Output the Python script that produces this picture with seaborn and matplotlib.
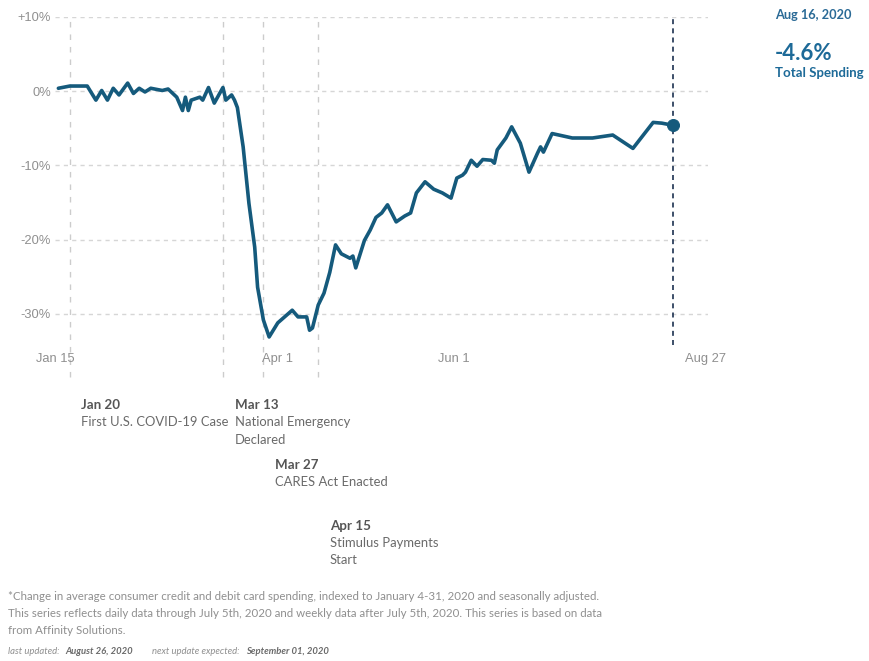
import numpy as np
import pandas as pd
import matplotlib
matplotlib.use("Agg")
import matplotlib.pyplot as plt
import matplotlib.dates as mdates
import seaborn as sns

# ---------------- data ----------------
dates = ["2020-01-16", "2020-01-20", "2020-01-26", "2020-01-29", "2020-01-31", "2020-02-02",
         "2020-02-04", "2020-02-06", "2020-02-09", "2020-02-11", "2020-02-13", "2020-02-15",
         "2020-02-17", "2020-02-21", "2020-02-23", "2020-02-26", "2020-02-28", "2020-02-29",
         "2020-03-01", "2020-03-02", "2020-03-05", "2020-03-06", "2020-03-08", "2020-03-10",
         "2020-03-13", "2020-03-14", "2020-03-16", "2020-03-17", "2020-03-18", "2020-03-20",
         "2020-03-22", "2020-03-24", "2020-03-25", "2020-03-27", "2020-03-29", "2020-04-01",
         "2020-04-06", "2020-04-08", "2020-04-11", "2020-04-12", "2020-04-13", "2020-04-15",
         "2020-04-17", "2020-04-19", "2020-04-21", "2020-04-23", "2020-04-26", "2020-04-27",
         "2020-04-28", "2020-05-01", "2020-05-03", "2020-05-05", "2020-05-07", "2020-05-09",
         "2020-05-12", "2020-05-15", "2020-05-17", "2020-05-19", "2020-05-22", "2020-05-25",
         "2020-05-28", "2020-05-31", "2020-06-02", "2020-06-04", "2020-06-05", "2020-06-07",
         "2020-06-09", "2020-06-11", "2020-06-14", "2020-06-15", "2020-06-16", "2020-06-19",
         "2020-06-21", "2020-06-24", "2020-06-27", "2020-06-30", "2020-07-01", "2020-07-02",
         "2020-07-05", "2020-07-12", "2020-07-19", "2020-07-26", "2020-08-02", "2020-08-09",
         "2020-08-12", "2020-08-16"]
spending = [0.4, 0.7, 0.7, -1.2, 0.1, -1.2,
            0.4, -0.5, 1.1, -0.3, 0.4, -0.1,
            0.4, 0.1, 0.3, -0.8, -2.6, -0.8,
            -2.6, -1.2, -0.8, -1.2, 0.5, -1.6,
            0.5, -1.2, -0.5, -1.2, -2.2, -7.5,
            -15.1, -21.0, -26.4, -30.8, -33.1, -31.2,
            -29.5, -30.4, -30.4, -32.2, -31.9, -28.8,
            -27.2, -24.4, -20.7, -21.9, -22.5, -22.2,
            -23.8, -20.1, -18.7, -17.0, -16.4, -15.3,
            -17.6, -16.8, -16.4, -13.7, -12.2, -13.2,
            -13.7, -14.4, -11.7, -11.3, -10.9, -9.3,
            -10.1, -9.2, -9.3, -9.7, -7.9, -6.3,
            -4.8, -7.0, -10.9, -8.3, -7.5, -8.2,
            -5.7, -6.3, -6.3, -5.9, -7.7, -4.2,
            -4.3, -4.6]

y_ticks = [10, 0, -10, -20, -30]
y_tick_labels = ["+10%", "0%", "-10%", "-20%", "-30%"]
x_tick_dates = ["2020-01-15", "2020-04-01", "2020-06-01", "2020-08-27"]
x_tick_labels = ["Jan 15", "Apr 1", "Jun 1", "Aug 27"]

event_dates = ["2020-01-20", "2020-03-13", "2020-03-27", "2020-04-15"]
event_titles = ["Jan 20", "Mar 13", "Mar 27", "Apr 15"]
event_texts = ["First U.S. COVID-19 Case", "National Emergency\nDeclared",
               "CARES Act Enacted", "Stimulus Payments\nStart"]

latest_date = "2020-08-16"
latest_label = "Aug 16, 2020"
latest_value_label = "-4.6%"

# ---------------- figure ----------------
W, H = 869, 661
sns.set_style("white")
plt.rcParams["font.family"] = ["Lato", "DejaVu Sans"]
fig = plt.figure(figsize=(W / 100, H / 100), dpi=100)

def fx(px):
    return px / W

def fy(py):
    return 1 - py / H

ax_left, ax_right, ax_top, ax_bot = 55, 708, 17, 345
ax = fig.add_axes([fx(ax_left), fy(ax_bot), (ax_right - ax_left) / W, (ax_bot - ax_top) / H])

df = pd.DataFrame({"date": pd.to_datetime(dates), "spending": spending})
line_color = "#155a7c"

# grid lines
for yv in y_ticks:
    ax.axhline(yv, color="#d6d6d6", lw=1.0, ls=(0, (3, 3)), zorder=0)

# event lines
ext = -(377 - ax_bot) / (ax_bot - ax_top)
for d in event_dates:
    ax.axvline(pd.Timestamp(d), ymin=ext, ymax=1, color="#cccccc", lw=1.0,
               ls=(0, (4, 5)), clip_on=False, zorder=0)

# latest date line
ax.axvline(pd.Timestamp(latest_date), ymin=0, ymax=1, color="#1c3150", lw=1.2,
           ls=(0, (3, 2.5)), clip_on=False, zorder=1)

sns.lineplot(data=df, x="date", y="spending", ax=ax, color=line_color, lw=2.6,
             zorder=3, legend=False)
last = df[df["date"] == pd.Timestamp(latest_date)]
sns.scatterplot(data=last, x="date", y="spending", ax=ax, color=line_color, s=75,
                edgecolor=line_color, zorder=4, legend=False)

ax.set_xlim(pd.Timestamp("2020-01-14 20:00"), pd.Timestamp("2020-08-28 00:00"))
ax.set_ylim((91 - ax_bot) / 7.43, 10)
ax.set_yticks(y_ticks)
ax.set_yticklabels(y_tick_labels)
ax.set_xticks(pd.to_datetime(x_tick_dates))
ax.set_xticklabels(x_tick_labels)
ax.tick_params(axis="both", length=0, labelsize=9.3, labelcolor="#8f8f8f")
ax.tick_params(axis="y", pad=3)
ax.tick_params(axis="x", pad=6)
for lab in ax.get_xticklabels() + ax.get_yticklabels():
    lab.set_fontfamily(["Liberation Sans", "DejaVu Sans"])
ax.set_xlabel("")
ax.set_ylabel("")
for s in ax.spines.values():
    s.set_visible(False)
ax.grid(False)

# right side callout
fig.text(fx(775), fy(15), latest_label, color="#2a6a96", fontsize=9.2,
         fontweight="bold", va="center", ha="left")
fig.text(fx(775), fy(53), latest_value_label, color="#1d6a98", fontsize=16,
         fontweight="bold", va="center", ha="left")
fig.text(fx(775), fy(73), "Total Spending", color="#1d6a98", fontsize=9.5,
         fontweight="bold", va="center", ha="left")

# event annotations
ev_pos = [(81, 405), (235, 405), (275, 465), (330, 526)]
for (px, py), t, body in zip(ev_pos, event_titles, event_texts):
    fig.text(fx(px), fy(py), t, color="#555555", fontsize=9.6, fontweight="bold",
             va="center", ha="left")
    fig.text(fx(px), fy(py + 11), body, color="#6a6a6a", fontsize=9.4,
             va="top", ha="left", linespacing=1.55)

# footnote
foot = ["*Change in average consumer credit and debit card spending, indexed to January 4-31, 2020 and seasonally adjusted.",
        "This series reflects daily data through July 5th, 2020 and weekly data after July 5th, 2020. This series is based on data",
        "from Affinity Solutions."]
fs = 8.25
for i, line in enumerate(foot):
    fig.text(fx(8), fy(596 + i * 17.5), line, color="#8f8f8f", fontsize=fs,
             va="center", ha="left")
fs2 = 6.8
fig.text(fx(8), fy(652), "last updated:", color="#8f8f8f", fontsize=fs2,
         style="italic", va="center", ha="left")
fig.text(fx(65), fy(652), "August 26, 2020", color="#6a6a6a", fontsize=fs2,
         style="italic", fontweight="bold", va="center", ha="left")
fig.text(fx(152), fy(652), "next update expected:", color="#8f8f8f", fontsize=fs2,
         style="italic", va="center", ha="left")
fig.text(fx(246), fy(652), "September 01, 2020", color="#6a6a6a", fontsize=fs2,
         style="italic", fontweight="bold", va="center", ha="left")

fig.savefig("out.png", dpi=100, facecolor="white")
